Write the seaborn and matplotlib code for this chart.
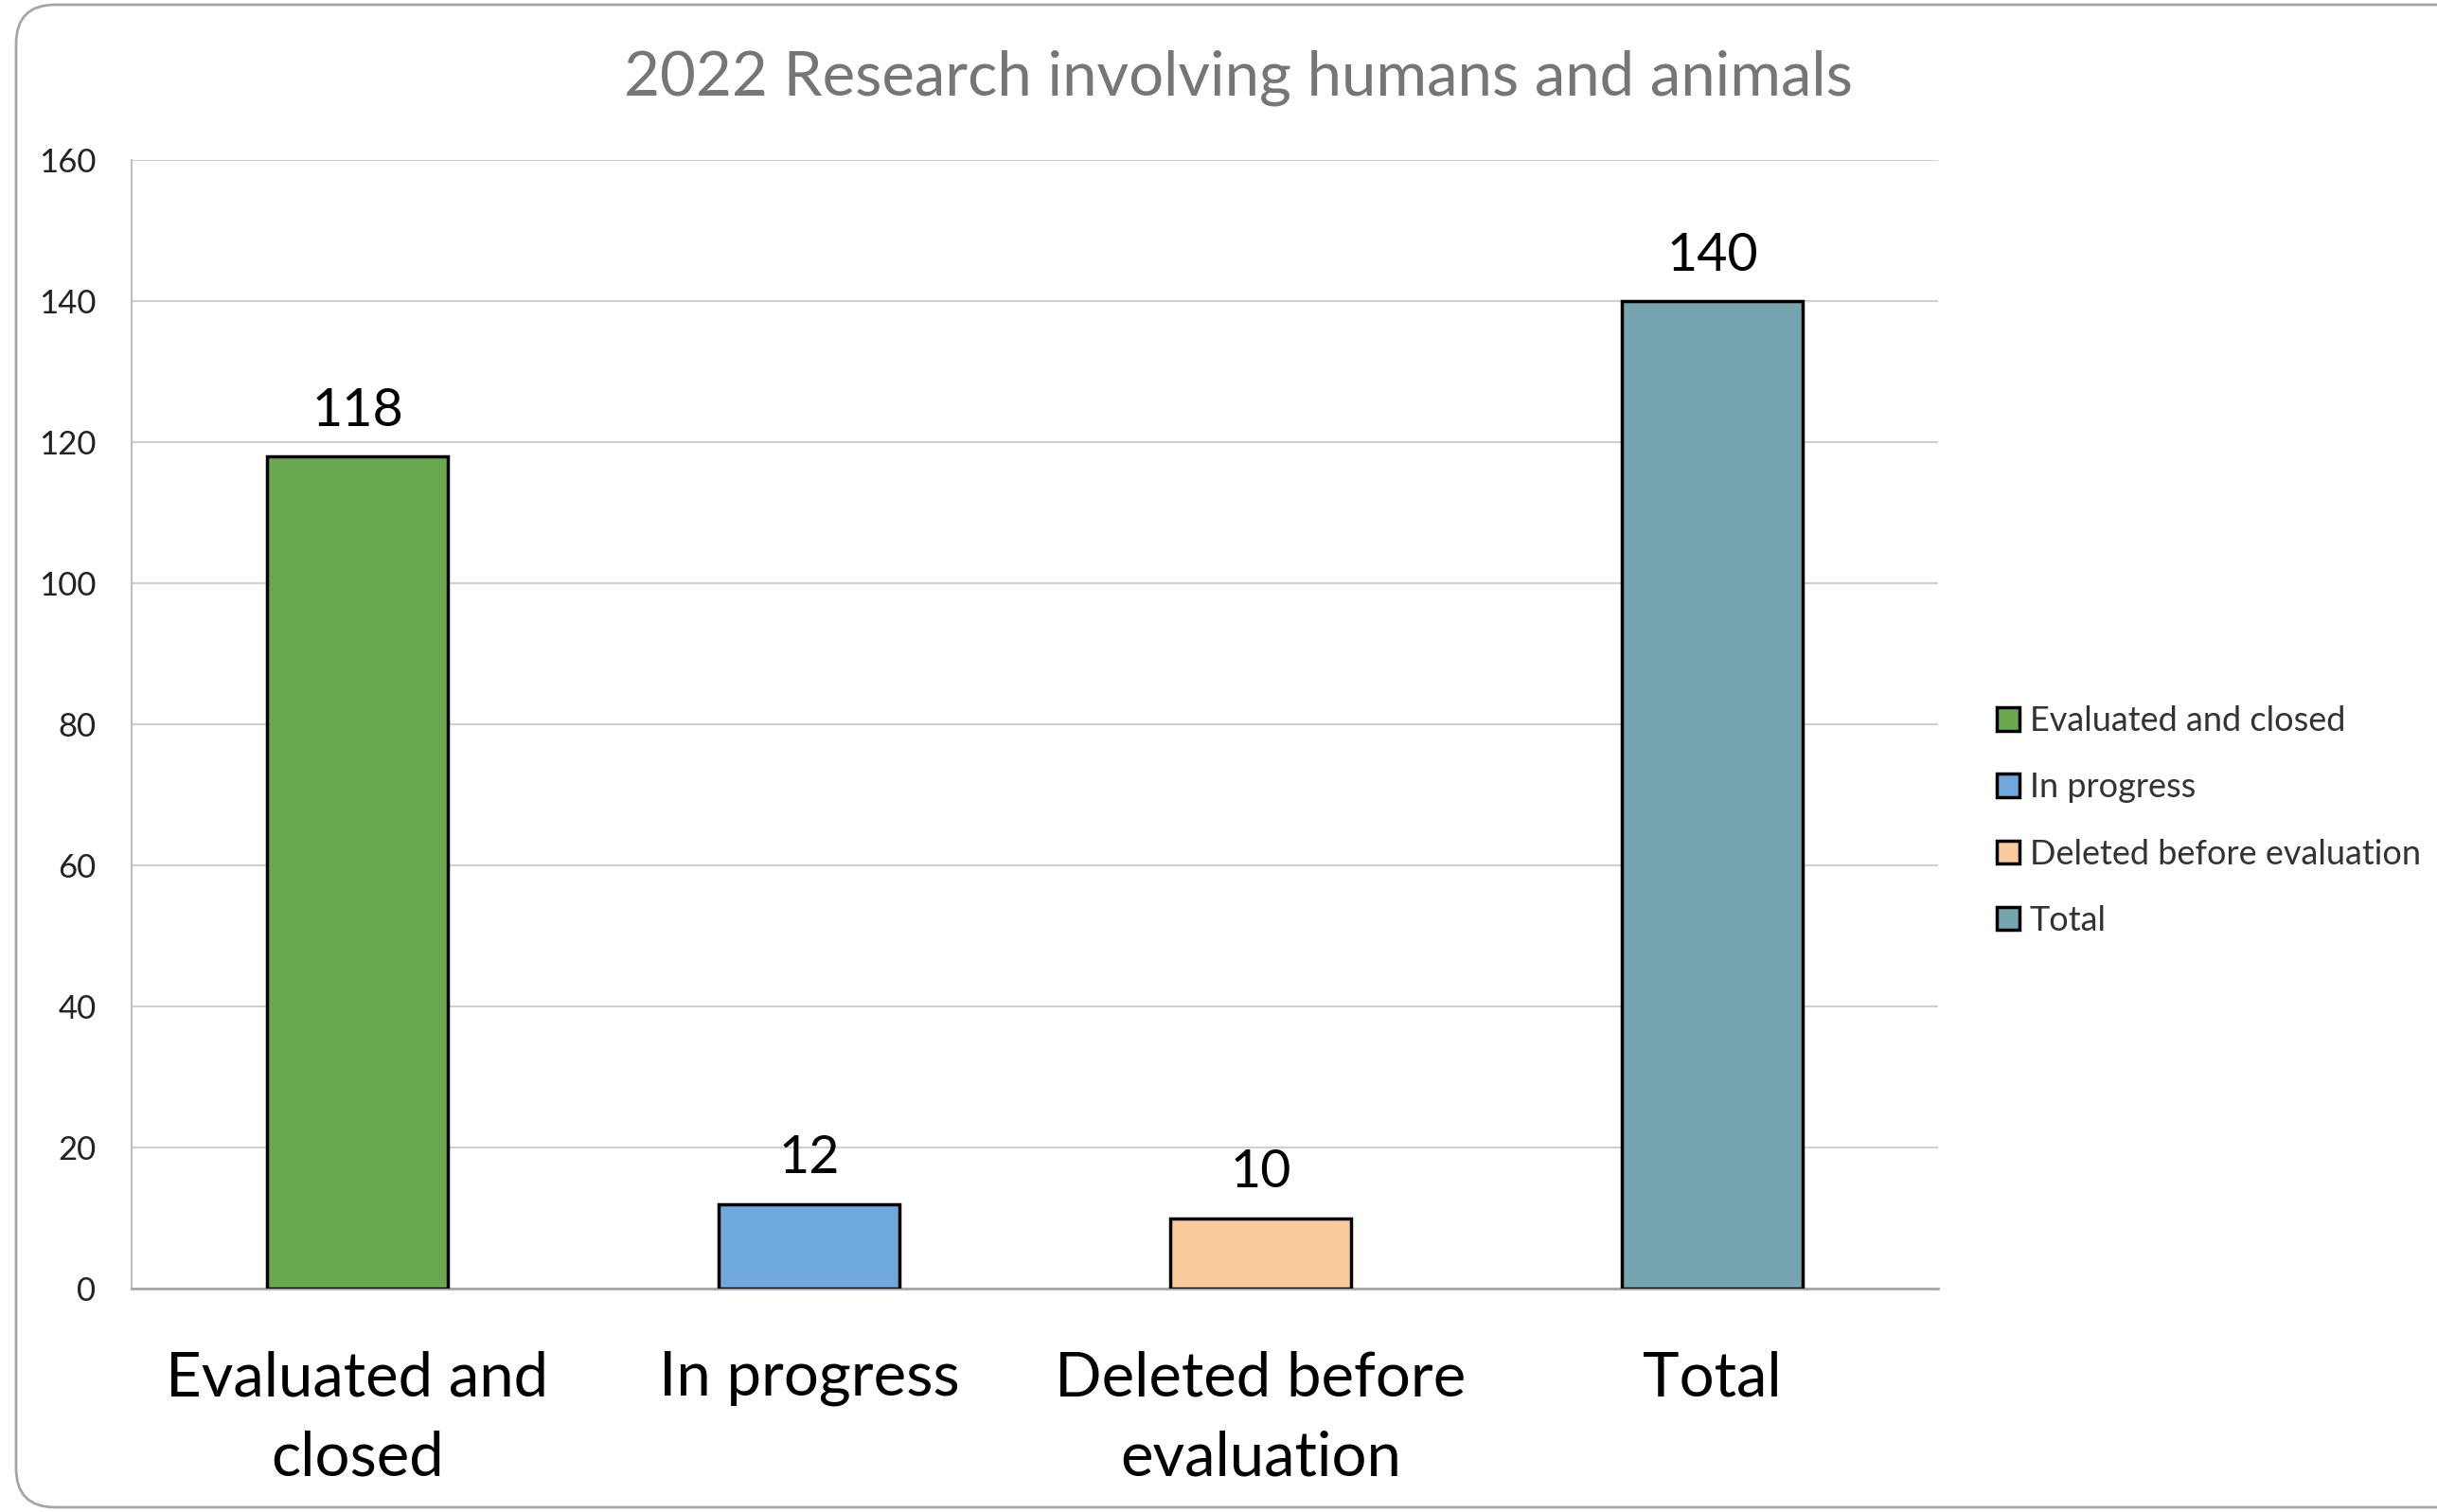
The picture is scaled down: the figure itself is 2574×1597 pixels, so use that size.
import matplotlib
matplotlib.use("Agg")
import matplotlib.pyplot as plt
import seaborn as sns
import pandas as pd
from matplotlib.patches import FancyBboxPatch, Patch

categories = ["Evaluated and closed", "In progress", "Deleted before evaluation", "Total"]
tick_labels = ["Evaluated and\nclosed", "In progress", "Deleted before\nevaluation", "Total"]
values = [118, 12, 10, 140]
colors = ["#6AA84F", "#6FA8DC", "#F9CB9C", "#76A5AF"]
y_ticks = [0, 20, 40, 60, 80, 100, 120, 140, 160]
title = "2022 Research involving humans and animals"

sns.set_theme(style="white")
plt.rcParams["font.family"] = ["Lato", "DejaVu Sans"]

W, H = 2574, 1597
fig = plt.figure(figsize=(W / 100, H / 100), dpi=100)
ax = fig.add_axes([139 / W, 1 - 1361 / H, (2047 - 139) / W, (1361 - 169) / H])

df = pd.DataFrame({"cat": categories, "val": values})
sns.barplot(data=df, x="cat", y="val", hue="cat", order=categories, hue_order=categories,
            palette=colors, saturation=1, dodge=False, width=0.40, edgecolor="black",
            linewidth=2.5, legend=False, ax=ax, zorder=3)

ax.set_ylim(0, 160)
ax.set_yticks(y_ticks)
ax.set_yticklabels([str(t) for t in y_ticks], fontsize=25, color="#222222")
ax.set_xticks(range(len(categories)))
ax.set_xticklabels(tick_labels, fontsize=47, color="black", linespacing=1.52)
ax.tick_params(axis="x", length=0, pad=47)
ax.tick_params(axis="y", length=0, pad=27)
ax.set_xlabel("")
ax.set_ylabel("")
ax.set_xlim(-0.5, 3.5)

ax.grid(axis="y", color="#D0D0D0", linewidth=1.5, zorder=0)
ax.set_axisbelow(True)
for s in ["right", "top"]:
    ax.spines[s].set_visible(False)
ax.spines["left"].set_color("#BFBFBF")
ax.spines["left"].set_linewidth(1.5)
ax.spines["bottom"].set_color("#A6A6A6")
ax.spines["bottom"].set_linewidth(2)

for c in ax.containers:
    ax.bar_label(c, fontsize=40, color="black", padding=16)

fig.text(1308 / W, 1 - 82 / H, title, ha="center", va="center", fontsize=47, color="#767676")

handles = [Patch(facecolor=col, edgecolor="black", linewidth=2.5, label=cat)
           for col, cat in zip(colors, categories)]
leg = fig.legend(handles=handles, loc="center left", bbox_to_anchor=(2076 / W, 1 - 867 / H),
                 frameon=False, fontsize=26, handlelength=0.67, handleheight=0.67,
                 handletextpad=0.3, labelspacing=1.03, labelcolor="#333333")

border = FancyBboxPatch((17 / W, 5 / H), (2620 - 17) / W, (1592 - 5) / H,
                        boxstyle="round,pad=0,rounding_size=0.016",
                        transform=fig.transFigure, facecolor="none",
                        edgecolor="#A6A6A6", linewidth=2, mutation_aspect=W / H)
fig.patches.append(border)

fig.savefig("out.png", dpi=100, facecolor="white")
